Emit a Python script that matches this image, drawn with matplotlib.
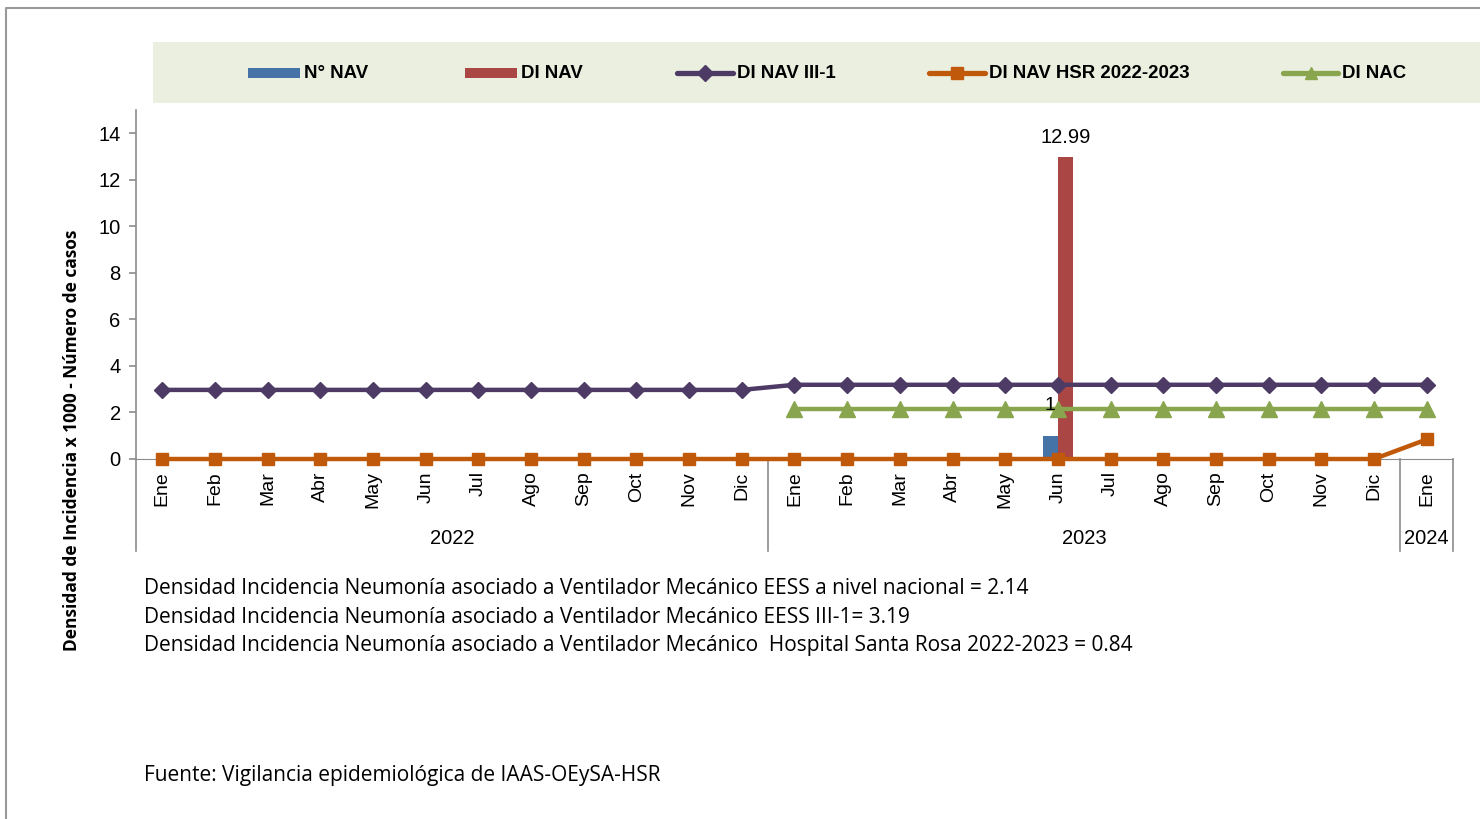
import matplotlib
matplotlib.use("Agg")
import matplotlib.pyplot as plt
from matplotlib.lines import Line2D
from matplotlib.patches import Rectangle
import matplotlib.transforms as mtransforms
import numpy as np

plt.rcParams['font.family'] = ['Liberation Sans', 'DejaVu Sans']

# datos
meses = ["Ene", "Feb", "Mar", "Abr", "May", "Jun", "Jul", "Ago", "Sep", "Oct", "Nov", "Dic",
         "Ene", "Feb", "Mar", "Abr", "May", "Jun", "Jul", "Ago", "Sep", "Oct", "Nov", "Dic",
         "Ene"]
anios = ["2022", "2023", "2024"]
meses_por_anio = [12, 12, 1]

n_nav = [None] * 17 + [1] + [None] * 7
di_nav = [None] * 17 + [12.99] + [None] * 7
di_nav_iii1 = [2.97] * 12 + [3.19] * 13
di_nav_hsr = [0] * 24 + [0.84]
di_nac = [None] * 12 + [2.14] * 13

notas = [
    "Densidad Incidencia Neumonía asociado a Ventilador Mecánico EESS a nivel nacional = 2.14",
    "Densidad Incidencia Neumonía asociado a Ventilador Mecánico EESS III-1= 3.19",
    "Densidad Incidencia Neumonía asociado a Ventilador Mecánico  Hospital Santa Rosa 2022-2023 = 0.84",
]
fuente = "Fuente: Vigilancia epidemiológica de IAAS-OEySA-HSR"

c_azul = "#4572A7"
c_rojo = "#AA4643"
c_morado = "#4D3B66"
c_naranja = "#C05A0A"
c_verde = "#89A54E"
gris = "#8C8C8C"
fam_notas = ["Open Sans", "DejaVu Sans"]

W, H = 1480, 819
fig = plt.figure(figsize=(W / 100, H / 100), dpi=100)
ax = fig.add_axes([136 / W, 1 - 459 / H, (1453 - 136) / W, (459 - 110) / H])

x = np.arange(len(meses))
ancho = 0.285

def a_num(v):
    return [np.nan if e is None else e for e in v]

ax.bar(x - ancho / 2, a_num(n_nav), ancho, color=c_azul, zorder=2)
ax.bar(x + ancho / 2, a_num(di_nav), ancho, color=c_rojo, zorder=2)

ax.plot(x, a_num(di_nav_iii1), color=c_morado, lw=3.2, marker="D", ms=8, zorder=3)
ax.plot(x, a_num(di_nac), color=c_verde, lw=3.2, marker="^", ms=12, zorder=3)
ax.plot(x, a_num(di_nav_hsr), color=c_naranja, lw=3.2, marker="s", ms=8, zorder=4,
        clip_on=False)

for i, v in enumerate(n_nav):
    if v is not None:
        ax.annotate(f"{v:g}", (x[i] - ancho / 2, v), xytext=(0, 16), textcoords="offset points",
                    ha="center", va="bottom", fontsize=14, zorder=5)
for i, v in enumerate(di_nav):
    if v is not None:
        ax.annotate(f"{v:.2f}", (x[i] + ancho / 2, v), xytext=(0, 7), textcoords="offset points",
                    ha="center", va="bottom", fontsize=14.5, zorder=5)

ax.set_xlim(-0.5, len(meses) - 0.5)
ax.set_ylim(0, 15)
ax.set_yticks(range(0, 15, 2))
ax.tick_params(axis="y", labelsize=14.5, color=gris, length=5, width=1.2, pad=6)
ax.set_xticks(x)
ax.set_xticklabels(meses, rotation=90, fontsize=14, va="top")
ax.tick_params(axis="x", length=0, pad=9)
for s in ["top", "right"]:
    ax.spines[s].set_visible(False)
ax.spines["left"].set_color(gris)
ax.spines["bottom"].set_color(gris)
ax.spines["left"].set_linewidth(1.2)
ax.set_facecolor("none")

# separadores y años
tr = mtransforms.blended_transform_factory(ax.transData, ax.transAxes)
y_sep = -(551 - 459) / (459 - 110)
bordes = np.concatenate([[0], np.cumsum(meses_por_anio)]) - 0.5
for b in bordes:
    ax.plot([b, b], [0, y_sep], transform=tr, color=gris, lw=1.2, clip_on=False)
for k, anio in enumerate(anios):
    cx = (bordes[k] + bordes[k + 1]) / 2
    ax.text(cx, -(539 - 459) / (459 - 110), anio, transform=tr, ha="center", va="center",
            fontsize=14.5)

fig.text(72 / W, 1 - 440 / H, "Densidad de Incidencia x 1000 - Número de casos",
         rotation=90, ha="center", va="center", fontsize=12.5, fontweight="bold",
         family=fam_notas)

# leyenda
fig.patches.append(Rectangle((153 / W, 1 - 103 / H), (W - 153) / W, 61 / H,
                             transform=fig.transFigure, facecolor="#EBEFE0", edgecolor="none",
                             zorder=0))
ly = 1 - 73 / H
items = [
    (248, 300, c_azul, None, "N° NAV", "bar"),
    (465, 517, c_rojo, None, "DI NAV", "bar"),
    (677, 733, c_morado, "D", "DI NAV III-1", "line"),
    (929, 985, c_naranja, "s", "DI NAV HSR 2022-2023", "line"),
    (1283, 1338, c_verde, "^", "DI NAC", "line"),
]
for x0, x1, c, m, lab, tipo in items:
    if tipo == "bar":
        fig.patches.append(Rectangle((x0 / W, 1 - 78 / H), (x1 - x0) / W, 10 / H,
                                     transform=fig.transFigure, facecolor=c, edgecolor="none"))
    else:
        fig.lines.append(Line2D([x0 / W, x1 / W], [ly, ly], transform=fig.transFigure,
                                color=c, lw=3.8, solid_capstyle="round"))
        fig.lines.append(Line2D([(x0 + x1) / 2 / W], [ly], transform=fig.transFigure,
                                color=c, marker=m, ms=8, lw=0))
    fig.text((x1 + 4) / W, ly, lab, ha="left", va="center", fontsize=13.4, fontweight="bold")

# notas
for k, t in enumerate(notas):
    fig.text(144 / W, 1 - (589 + 28.5 * k) / H, t, ha="left", va="center", fontsize=15,
             family=fam_notas)
fig.text(144 / W, 1 - 776 / H, fuente, ha="left", va="center", fontsize=15, family=fam_notas)

# marco
fig.lines.append(Line2D([6 / W, 6 / W, 1.0], [0, 1 - 8 / H, 1 - 8 / H], transform=fig.transFigure,
                        color="#999999", lw=1.5))

fig.savefig("out.png", dpi=100)
